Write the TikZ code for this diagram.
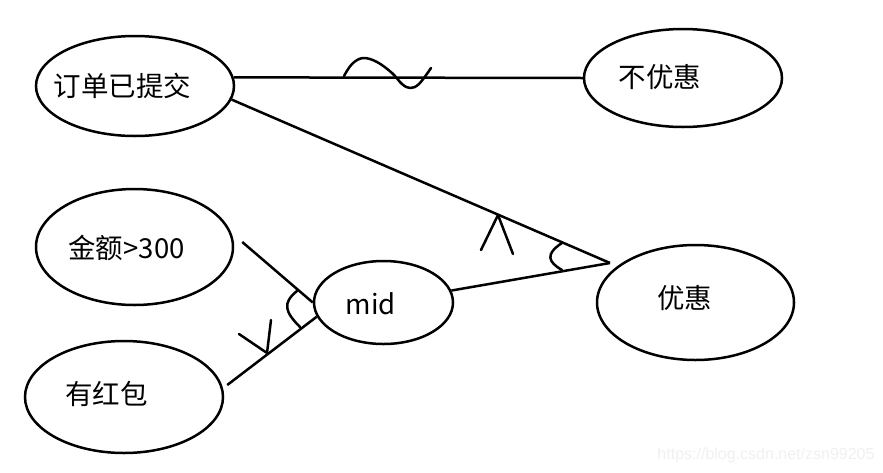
\documentclass[tikz,border=0pt]{standalone}
\usepackage{fontspec}
\setmainfont{Noto Sans CJK SC}
\newfontfamily\urlfont{Liberation Sans}
\usetikzlibrary{shapes.geometric}

\begin{document}
\begin{tikzpicture}[x=1pt,y=-1pt,line width=2.5pt,
  ent/.style={draw,ellipse,inner sep=0pt},
  lbl/.style={font=\fontsize{27.5}{31}\selectfont,inner sep=0pt},
  scribble/.style={line width=2.5pt,line cap=round,line join=round}]
\useasboundingbox (0,0) rectangle (883,472);
\node[ent,minimum width=198pt,minimum height=100pt] (order) at (135,86) {};
\node[ent,minimum width=198pt,minimum height=98pt] (nopref) at (683,78) {};
\node[ent,minimum width=197pt,minimum height=116pt] (amount) at (134.5,247) {};
\node[ent,minimum width=198pt,minimum height=112pt] (redpack) at (124,397) {};
\node[ent,minimum width=139pt,minimum height=83pt] (mid) at (383.5,302.5) {};
\node[ent,minimum width=197pt,minimum height=115pt] (pref) at (695.5,302.5) {};
\node[lbl] (orderT) at (122.5,86) {订单已提交};
\node[lbl] (noprefT) at (660,77) {不优惠};
\node[lbl] (amountT) at (126.5,247.5) {金额>300};
\node[lbl] (redpackT) at (106.5,394) {有红包};
\node[lbl] (midT) at (371,304) {mid};
\node[lbl] (prefT) at (684.5,298) {优惠};
\node[font=\urlfont\fontsize{16}{18}\selectfont,text=black!6,inner sep=0pt] (url) at (766,455) {https://blog.csdn.net/zsn99205};
\coordinate (split) at (610,263);
\draw (order.5) -- (nopref.west);
\draw (order.-8) -- (split);
\draw (mid.10) -- (split);
\draw ([shift={(8,-5)}]amount.east) -- (mid.west);
\draw ([shift={(3,-12)}]redpack.east) -- (mid.192);
\draw[scribble] plot[smooth,tension=0.6] coordinates {(344,76) (352,64) (363,58) (377,62) (392,73) (402,84) (410,88) (419,84) (431,68)};
\draw[scribble] (481,250) -- (498,215) -- (513,254);
\draw[scribble] (562,243) .. controls (545,254) and (548,262) .. (562,270);
\draw[scribble] (297,291) .. controls (282,303) and (285,312) .. (300,327);
\draw[scribble] (239,334) -- (267,353) -- (271,320);
\end{tikzpicture}
\end{document}
